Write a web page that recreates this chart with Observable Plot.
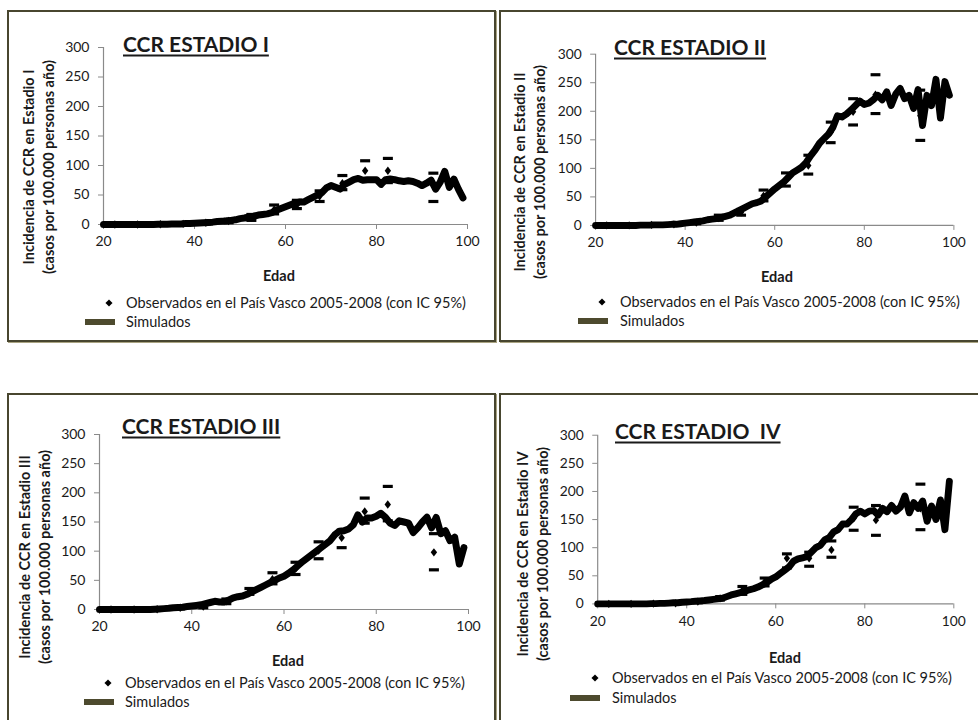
<!DOCTYPE html>
<html><head><meta charset="utf-8">
<script src="https://cdn.jsdelivr.net/npm/d3@7"></script>
<script src="https://cdn.jsdelivr.net/npm/@observablehq/plot@0.6"></script>
<style>
body{margin:0;background:#fff;}
#page{position:relative;width:978px;height:720px;overflow:hidden;background:#fff;font-family:Lato,"Open Sans",sans-serif;color:#1a1a1a;}
.box{position:absolute;border:2px solid #48462f;box-shadow:1px 1px 0 #aaa482;box-sizing:border-box;}
.title{position:absolute;font-weight:bold;font-size:21px;text-decoration:underline;text-decoration-thickness:2px;text-underline-offset:3px;white-space:pre;transform:translateY(-50%);line-height:1;}
.ylab{position:absolute;font-weight:bold;font-size:14.5px;line-height:20px;text-align:center;white-space:nowrap;transform:translate(-50%,-50%) rotate(-90deg);}
.xlab{position:absolute;font-weight:bold;font-size:14.5px;transform:translate(-50%,-50%);}
.leg{position:absolute;font-size:14.5px;transform:translateY(-50%);white-space:nowrap;line-height:1;}
.legdia{position:absolute;width:5px;height:5px;background:#000;transform:translate(-50%,-50%) rotate(45deg);}
.legbar{position:absolute;height:6px;background:#4d4a2e;transform:translateY(-50%);}
.plot{position:absolute;}
</style></head><body><div id="page"></div>
<script>
// ---------- DATA ----------
const ages = [20,21,22,23,24,25,26,27,28,29,30,31,32,33,34,35,36,37,38,39,
  40,41,42,43,44,45,46,47,48,49,50,51,52,53,54,55,56,57,58,59,
  60,61,62,63,64,65,66,67,68,69,70,71,72,73,74,75,76,77,78,79,
  80,81,82,83,84,85,86,87,88,89,90,91,92,93,94,95,96,97,98,99];
const obsAge = [22.5,27.5,32.5,37.5,42.5,47.5,52.5,57.5,62.5,67.5,72.5,77.5,82.5,92.5];
const xTicks = [20,40,60,80,100];
const yTicks = [0,50,100,150,200,250,300];

const titles = ["CCR ESTADIO I","CCR ESTADIO II","CCR ESTADIO III","CCR ESTADIO  IV"];
const yLabels1 = ["Incidencia de CCR en Estadio I","Incidencia de CCR en Estadio II","Incidencia de CCR en Estadio III","Incidencia de CCR en Estadio IV"];
const yLabel2 = "(casos por 100.000 personas año)";
const xLabel = "Edad";
const legObs = "Observados en el País Vasco 2005-2008 (con IC 95%)";
const legSim = "Simulados";

// Simulated incidence, stage I..IV (ages 20..99)
const sim1 = [0,0,0,0,0,0,0,0,0,0, 0,0,0.5,0.5,0.5,1,1,1,1.5,1.5,
  2,2.5,3,3.5,4,5,5.5,6,7,8, 10,11,13,14,16,17,18,20,24,27,
  30,33,36,38,38,42,46,50,54,62, 66,63,60,68,72,76,78,75,76,76,
  76,68,76,77,76,74,73,74,73,70, 66,70,75,60,72,90,63,77,60,45];
const sim2 = [0,0,0,0,0,0,0,0,0,0, 0.5,0.5,0.5,1,1,1,1.5,2,2,3,
  4,5,6,7,8,10,11,12,14,16, 18,22,26,30,34,38,40,43,50,57,
  64,70,76,84,92,97,102,110,122,132, 144,152,160,172,192,190,195,202,210,218,
  212,214,220,228,220,234,210,230,240,222, 228,205,238,175,228,210,256,188,252,228];
const sim3 = [0,0,0,0,0,0,0,0,0,0, 0,0,0.5,1,1.5,2,3,3.5,4,5,
  6,7,8,10,12,14,13,13,16,20, 22,23,26,30,34,38,42,46,50,54,
  57,62,68,75,82,88,94,100,106,112, 118,128,134,135,138,145,162,150,157,157,
  160,165,158,148,144,152,150,148,132,140, 150,158,140,158,130,135,118,124,78,106];
const sim4 = [0,0,0,0,0,0,0,0,0,0, 0,0,0.5,0.5,1,1,1.5,2,2,3,
  3.5,4,5,5.5,6,7,8,9,10,13, 16,18,20,22,25,27,30,34,38,44,
  48,54,60,66,76,80,82,84,92,100, 104,114,118,128,132,142,142,150,160,165,
  160,165,166,158,170,164,175,165,172,192, 162,180,170,183,147,174,150,185,132,218];

// Observed (Basque Country 2005-2008) with 95% CI
const obs1 = [0,0,0.5,1,3,6,12,25,33,48,70,91,91,66];
const lo1  = [0,0,0,0,1,3,7,18,27,39,59,76,71,39];
const hi1  = [0.5,1,1,2,5,9,17,33,41,57,83,108,112,87];
const obs2 = [0,0,1,2,5,13,23,52,80,105,163,199,229,192];
const lo2  = [0,0,0,1,3,9,18,43,69,90,145,176,196,149];
const hi2  = [0.5,1,2,4,8,18,28,62,92,123,181,222,264,237];
const obs3 = [0,0,0.5,3,5,14,31,52,70,101,123,168,180,98];
const lo3  = [0,0,0,1,3,10,26,44,60,87,106,148,152,68];
const hi3  = [0.5,1,1,5,8,18,36,63,81,116,136,191,211,130];
const obs4 = [0,0,0.5,1,4,10,24,39,81,81,96,152,149,170];
const lo4  = [0,0,0,0,2,7,17,32,64,67,83,131,122,132];
const hi4  = [0.5,1,1,2,6,13,31,46,89,92,112,172,175,213];

// ---------- LAYOUT ----------
const panels = [
  {sim:sim1, obs:obs1, lo:lo1, hi:hi1, box:[7,10,496,342], area:[103,467,47,224],
   title:[123,43], ylab:[39,167], xlab:[279,275], leg:{dia:[109,303], text:126, sim:322, bar:[85,115]}},
  {sim:sim2, obs:obs2, lo:lo2, hi:hi2, box:[499,10,1005,342], area:[596,960,54,228],
   title:[614,46], ylab:[530,172], xlab:[777,276], leg:{dia:[602,302], text:620, sim:321, bar:[578,608]}},
  {sim:sim3, obs:obs3, lo:lo3, hi:hi3, box:[7,393,496,735], area:[99,468,434,609],
   title:[122,425], ylab:[35,557], xlab:[288,660], leg:{dia:[108,683], text:125, sim:702, bar:[84,114]}},
  {sim:sim4, obs:obs4, lo:lo4, hi:hi4, box:[499,393,1005,735], area:[598,959,435,606],
   title:[615,430], ylab:[533,554], xlab:[785,657], leg:{dia:[595,678], text:612, sim:698, bar:[570,600]}}
];

const capSym = {draw(ctx){ ctx.moveTo(-5,-1.6); ctx.lineTo(5,-1.6); ctx.lineTo(5,1.6); ctx.lineTo(-5,1.6); ctx.closePath(); }};
const diaSym = {draw(ctx){ ctx.moveTo(0,-4.2); ctx.lineTo(3.2,0); ctx.lineTo(0,4.2); ctx.lineTo(-3.2,0); ctx.closePath(); }};

const page = document.getElementById("page");
function el(cls, css, text){
  const d = document.createElement("div");
  d.className = cls;
  Object.assign(d.style, css);
  if (text != null) d.textContent = text;
  page.appendChild(d);
  return d;
}

panels.forEach((p, k) => {
  const [bx0, by0, bx1, by1] = p.box;
  el("box", {left:bx0+"px", top:by0+"px", width:(bx1-bx0)+"px", height:(by1-by0)+"px"});

  const [x0, x1, y0, y1] = p.area;
  const m = {l:60, t:20, r:25, b:35};
  const sim = ages.map((a, i) => ({age:a, v:p.sim[i]}));
  const obs = obsAge.map((a, i) => ({age:a, v:p.obs[i], lo:p.lo[i], hi:p.hi[i]}));
  const chart = Plot.plot({
    width: x1 - x0 + m.l + m.r, height: y1 - y0 + m.t + m.b,
    marginLeft: m.l, marginRight: m.r, marginTop: m.t, marginBottom: m.b,
    style: {fontFamily:"Lato, 'Open Sans', sans-serif", fontSize:"14px", color:"#1a1a1a", background:"transparent", overflow:"visible"},
    x: {domain:[20,100]},
    y: {domain:[0,300]},
    marks: [
      Plot.ruleY([0], {stroke:"#8a8a8a", strokeWidth:1.2}),
      Plot.ruleX([20], {stroke:"#8a8a8a", strokeWidth:1.2}),
      Plot.axisX({ticks:xTicks, tickSize:5, tickPadding:7, label:null, stroke:"#8a8a8a", fill:"#1a1a1a"}),
      Plot.axisY({ticks:yTicks, tickSize:5, tickPadding:9, label:null, stroke:"#8a8a8a", fill:"#1a1a1a"}),
      Plot.dot(obs, {x:"age", y:"hi", symbol:capSym, fill:"#000", r:3}),
      Plot.dot(obs, {x:"age", y:"lo", symbol:capSym, fill:"#000", r:3}),
      Plot.dot(obs, {x:"age", y:"v", symbol:diaSym, fill:"#000", r:3}),
      Plot.line(sim, {x:"age", y:"v", stroke:"#000", strokeWidth:7, strokeLinejoin:"round", strokeLinecap:"round"})
    ]
  });
  const holder = el("plot", {left:(x0-m.l)+"px", top:(y0-m.t)+"px"});
  holder.appendChild(chart);

  el("title", {left:p.title[0]+"px", top:p.title[1]+"px"}, titles[k]);
  const yl = el("ylab", {left:p.ylab[0]+"px", top:p.ylab[1]+"px"});
  const l1 = document.createElement("div"); l1.textContent = yLabels1[k];
  const l2 = document.createElement("div"); l2.textContent = yLabel2;
  yl.appendChild(l1); yl.appendChild(l2);
  el("xlab", {left:p.xlab[0]+"px", top:p.xlab[1]+"px"}, xLabel);
  el("legdia", {left:p.leg.dia[0]+"px", top:p.leg.dia[1]+"px"});
  el("leg", {left:p.leg.text+"px", top:p.leg.dia[1]+"px"}, legObs);
  el("legbar", {left:p.leg.bar[0]+"px", width:(p.leg.bar[1]-p.leg.bar[0])+"px", top:p.leg.sim+"px"});
  el("leg", {left:p.leg.text+"px", top:p.leg.sim+"px"}, legSim);
});
</script>
</body></html>
